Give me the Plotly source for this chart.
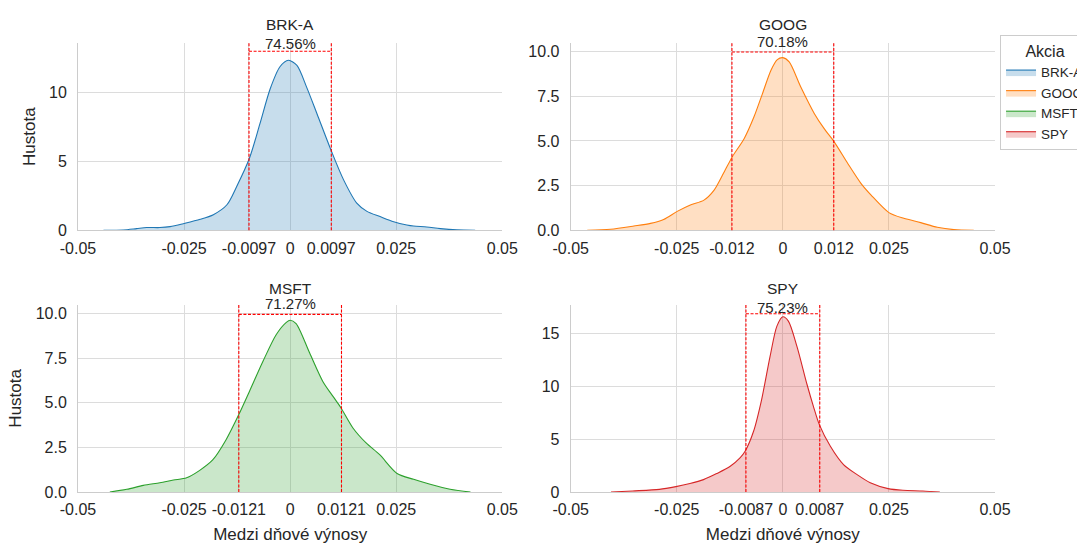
import plotly.graph_objects as go

# ---------------- data ----------------
tickers = ["BRK-A", "GOOG", "MSFT", "SPY"]
line_colors = ["#1f77b4", "#ff7f0e", "#2ca02c", "#d62728"]
fill_colors = ["rgba(31,119,180,0.25)", "rgba(255,127,14,0.25)",
               "rgba(44,160,44,0.25)", "rgba(214,39,40,0.25)"]

brk_x = [-0.044, -0.0393, -0.0362, -0.0338, -0.0307, -0.0283, -0.025, -0.0212, -0.0181,
         -0.0149, -0.0126, -0.0096, -0.0071, -0.0047, -0.0024, -0.0004, 0.0016, 0.0039,
         0.0063, 0.0098, 0.0126, 0.0157, 0.0181, 0.0212, 0.0244, 0.0275, 0.0291, 0.0322,
         0.0354, 0.0393, 0.0436]
brk_y = [0, 0.02, 0.12, 0.2, 0.2, 0.27, 0.5, 0.8, 1.14,
         1.86, 3.19, 5.24, 7.78, 10.3, 11.9, 12.37, 12.0, 10.4,
         8.5, 5.7, 3.67, 1.98, 1.38, 1.0, 0.63, 0.39, 0.31, 0.24,
         0.12, 0.03, 0]

goog_x = [-0.0461, -0.0406, -0.0351, -0.0312, -0.0281, -0.0249, -0.0218, -0.0186, -0.0162,
          -0.0138, -0.0119, -0.0091, -0.0068, -0.0048, -0.0028, -0.0013, 0.0, 0.0015,
          0.0042, 0.0074, 0.0097, 0.0121, 0.0153, 0.0184, 0.0208, 0.025, 0.0285, 0.0325,
          0.0364, 0.0403, 0.045]
goog_y = [0, 0.06, 0.24, 0.39, 0.61, 1.06, 1.42, 1.69, 2.25,
          3.28, 4.12, 5.14, 6.35, 7.65, 8.96, 9.55, 9.66, 9.42,
          8.03, 6.54, 5.7, 4.95, 3.74, 2.63, 1.97, 0.99, 0.67, 0.43,
          0.17, 0.04, 0]

msft_x = [-0.0425, -0.0385, -0.0346, -0.0307, -0.0275, -0.0244, -0.0214, -0.0182, -0.0151,
          -0.0121, -0.0096, -0.0064, -0.0033, -0.0009, 0.0, 0.0014, 0.0046, 0.0077,
          0.0101, 0.012, 0.0148, 0.0179, 0.0211, 0.0252, 0.0291, 0.033, 0.0377, 0.0425]
msft_y = [0, 0.15, 0.37, 0.52, 0.67, 0.8, 1.2, 1.81, 2.93,
          4.34, 5.64, 7.33, 8.82, 9.51, 9.63, 9.44, 7.79, 6.2,
          5.36, 4.71, 3.59, 2.75, 2.09, 1.04, 0.71, 0.43, 0.15, 0]

spy_x = [-0.0405, -0.0354, -0.0291, -0.0252, -0.0219, -0.0187, -0.0156, -0.0124, -0.0101,
         -0.0089, -0.0069, -0.005, -0.003, -0.0014, 0.0, 0.0013, 0.0033, 0.0057,
         0.0072, 0.0086, 0.0112, 0.0143, 0.0175, 0.0206, 0.0248, 0.0283, 0.033, 0.037]
spy_y = [0, 0.1, 0.25, 0.51, 0.8, 1.17, 1.74, 2.43, 3.22,
         3.85, 5.74, 8.74, 12.84, 15.68, 16.56, 16.15, 13.79, 10.16,
         8.1, 6.37, 4.32, 2.59, 1.64, 0.87, 0.32, 0.16, 0.1, 0]

xs = [brk_x, goog_x, msft_x, spy_x]
ys = [brk_y, goog_y, msft_y, spy_y]

bounds = [0.0097, 0.012, 0.0121, 0.0087]
bound_labels = ["0.0097", "0.012", "0.0121", "0.0087"]
shares = ["74.56%", "70.18%", "71.27%", "75.23%"]
bracket_y = [13.03, 9.98, 9.96, 16.85]
y_max = [13.63, 10.48, 10.5, 17.7]
y_ticks = [[0, 5, 10], [0, 2.5, 5, 7.5, 10], [0, 2.5, 5, 7.5, 10], [0, 5, 10, 15]]
y_ticktext = [["0", "5", "10"], ["0.0", "2.5", "5.0", "7.5", "10.0"],
              ["0.0", "2.5", "5.0", "7.5", "10.0"], ["0", "5", "10", "15"]]

# ---------------- layout geometry ----------------
FONT = "Arial, 'Liberation Sans', Helvetica, sans-serif"
TXT = "#262626"
GRID = "#dcdcdc"
x_domains = [[0, 0.4627], [0.5373, 1.0], [0, 0.4627], [0.5373, 1.0]]
y_domains = [[0.5828, 1.0], [0.5828, 1.0], [0, 0.4171], [0, 0.4171]]
title_shift = [18.5, 18.5, 16.5, 16.5]
pct_shift = [-0.6, 1.9, 0.9, -2.8]

fig = go.Figure()
shapes = []
annotations = []
layout_axes = {}

for i, t in enumerate(tickers):
    k = "" if i == 0 else str(i + 1)
    fig.add_trace(go.Scatter(
        x=xs[i], y=ys[i], mode="lines", name=t,
        line=dict(color=line_colors[i], width=1.1, shape="spline", smoothing=0.8),
        fill="tozeroy", fillcolor=fill_colors[i],
        xaxis="x" + k, yaxis="y" + k, hoverinfo="x+y+name",
    ))
    b = bounds[i]
    tv = [-0.05, -0.025, -b, 0, b, 0.025, 0.05]
    tt = ["-0.05", "-0.025", "-" + bound_labels[i], "0", bound_labels[i], "0.025", "0.05"]
    xa = dict(domain=x_domains[i], anchor="y" + k, range=[-0.05, 0.05],
              tickvals=tv, ticktext=tt, showgrid=True, gridcolor=GRID, gridwidth=1,
              showline=True, linecolor="#cccccc", linewidth=1, zeroline=False,
              ticks="outside", ticklen=3, tickcolor="rgba(0,0,0,0)",
              tickfont=dict(size=16, color=TXT, family=FONT), fixedrange=True)
    ya = dict(domain=y_domains[i], anchor="x" + k, range=[0, y_max[i]],
              tickvals=y_ticks[i], ticktext=y_ticktext[i], showgrid=True,
              gridcolor=GRID, gridwidth=1, showline=True, linecolor="#cccccc",
              linewidth=1, zeroline=False, ticks="outside", ticklen=7,
              tickcolor="rgba(0,0,0,0)",
              tickfont=dict(size=16, color=TXT, family=FONT), fixedrange=True)
    if i in (0, 2):
        ya["title"] = dict(text="Hustota", font=dict(size=17, color=TXT, family=FONT),
                           standoff=9)
    if i in (2, 3):
        xa["title"] = dict(text="Medzi dňové výnosy",
                           font=dict(size=17, color=TXT, family=FONT), standoff=12)
    layout_axes["xaxis" + k] = xa
    layout_axes["yaxis" + k] = ya

    red = dict(color="#ff0000", width=1.1, dash="3px,1.6px")
    for sx in (-b, b):
        shapes.append(dict(type="line", xref="x" + k, yref="y" + k + " domain",
                           x0=sx, x1=sx, y0=0, y1=1, line=red, layer="above"))
    shapes.append(dict(type="line", xref="x" + k, yref="y" + k,
                       x0=-b, x1=b, y0=bracket_y[i], y1=bracket_y[i], line=red,
                       layer="above"))
    annotations.append(dict(text=t, xref="x" + k + " domain", yref="y" + k + " domain",
                            x=0.5, y=1, yanchor="middle", xanchor="center",
                            yshift=title_shift[i], showarrow=False,
                            font=dict(size=15.5, color=TXT, family=FONT)))
    annotations.append(dict(text=shares[i], xref="x" + k, yref="y" + k + " domain",
                            x=0, y=1, yanchor="middle", xanchor="center",
                            yshift=pct_shift[i], showarrow=False,
                            font=dict(size=15, color=TXT, family=FONT)))

fig.update_layout(
    width=1077, height=544,
    margin=dict(l=78, r=82, t=43, b=52, autoexpand=False),
    paper_bgcolor="white", plot_bgcolor="white",
    font=dict(family=FONT, color=TXT),
    shapes=shapes, annotations=annotations,
    showlegend=True,
    legend=dict(
        x=1.0055, y=1.0178, xanchor="left", yanchor="top",
        bgcolor="rgba(255,255,255,0.9)", bordercolor="#cccccc", borderwidth=1,
        font=dict(size=13.5, color=TXT, family=FONT),
        title=dict(text="Akcia", side="top center",
                   font=dict(size=16, color=TXT, family=FONT)),
        tracegroupgap=0,
    ),
    **layout_axes,
)

fig.write_html("out.html")
